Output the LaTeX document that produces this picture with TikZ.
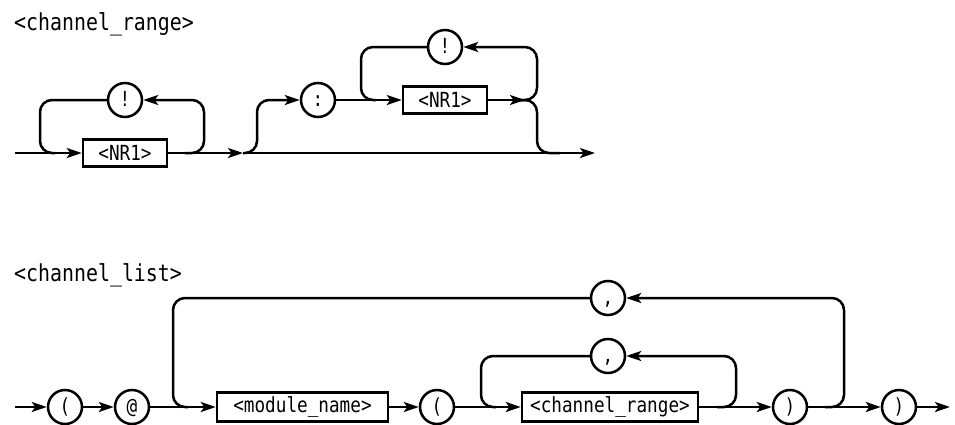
\documentclass[tikz,border=0pt]{standalone}
\usepackage{fontspec}
\newfontfamily\dgfont{DejaVu Sans Mono}[FakeStretch=0.85]
\usetikzlibrary{arrows.meta,calc}
\begin{document}
\begin{tikzpicture}[x=0.5pt,y=-0.5pt,
  line width=1.25pt,
  >={Stealth[length=7.5pt,width=5pt,inset=1.8pt]},
  term/.style={draw,circle,minimum size=17pt,inner sep=0pt,font=\dgfont\fontsize{10.4}{12}\selectfont,
    execute at begin node={\vphantom{(}}},
  nterm/.style={draw,rectangle,minimum height=13.5pt,inner sep=0pt,font=\dgfont\fontsize{10.4}{12}\selectfont},
  title/.style={anchor=base west,inner sep=0pt,font=\dgfont\fontsize{11.7}{14}\selectfont},
  rc/.style={rounded corners=6pt}]
\useasboundingbox (0,0) rectangle (955,424);

% ---------- channel_range ----------
\node[title] (t1) at (13,30) {<channel\_range>};
\coordinate (s1) at (15,153);
\node[nterm,minimum width=42pt] (n1) at (125,153) {<NR1>};
\node[term] (e1) at (125,100) {!};
\coordinate (L1) at (40,153);
\coordinate (R1) at (204,153);
\coordinate (R1k) at (185,153);
\coordinate (J1) at (243,153);
\coordinate (U1) at (257,153);
\coordinate (E1) at (595,153);
\node[term] (col) at (318,100) {:};
\node[nterm,minimum width=42pt] (n2) at (445,100) {<NR1>};
\node[term] (e2) at (445,47) {!};
\coordinate (L2) at (361,100);
\coordinate (J2) at (525,100);
\coordinate (K2) at (515,100);
\coordinate (R2) at (537,100);
\coordinate (B2) at (560,153);

\draw[->] (s1) -- (n1.west);
\draw[rc] (e1.west) -| (L1) -- ++(15,0);
\draw[rc,->] (R1k) -- (R1) |- (e1.east);
\draw[->] (n1.east) -- (J1);
\draw[rc,->] (J1) -- (U1) |- (col.west);
\draw[->] (J1) -- (E1);
\draw[->] (col.east) -- (n2.west);
\draw[rc] (e2.west) -| (L2) -- ++(15,0);
\draw[->] (n2.east) -- (J2);
\draw[rc,->] (K2) -- (R2) |- (e2.east);
\draw[rc] (K2) -- (R2) |- (B2);

% ---------- channel_list ----------
\node[title] (t2) at (13,281) {<channel\_list>};
\coordinate (s2) at (15,407);
\node[term] (p1) at (65,407) {(};
\node[term] (at) at (132,407) {@};
\node[nterm,minimum width=85.5pt,minimum height=14.5pt] (mod) at (302.5,407) {<module\_name>};
\node[term] (p2) at (437,407) {(};
\node[nterm,minimum width=88pt,minimum height=14.5pt] (cr) at (610,407) {<channel\_range>};
\node[term] (q1) at (790,407) {)};
\node[term] (q2) at (899,407) {)};
\node[term] (c1) at (608,298) {,};
\node[term] (c2) at (608,356) {,};
\coordinate (e) at (950,407);
\coordinate (BL) at (173,407);
\coordinate (BR) at (844,407);
\coordinate (BRk) at (825,407);
\coordinate (IL) at (481,407);
\coordinate (IR) at (736,407);
\coordinate (IRk) at (717,407);

\draw[->] (s2) -- (p1);
\draw[->] (p1) -- (at);
\draw[->] (at) -- (mod);
\draw[->] (mod) -- (p2);
\draw[->] (p2) -- (cr);
\draw[->] (cr) -- (q1);
\draw[->] (q1) -- (q2);
\draw[->] (q2) -- (e);
\draw[rc] (c1.west) -| (BL) -- ++(15,0);
\draw[rc,->] (BRk) -- (BR) |- (c1.east);
\draw[rc] (c2.west) -| (IL) -- ++(15,0);
\draw[rc,->] (IRk) -- (IR) |- (c2.east);
\end{tikzpicture}
\end{document}
